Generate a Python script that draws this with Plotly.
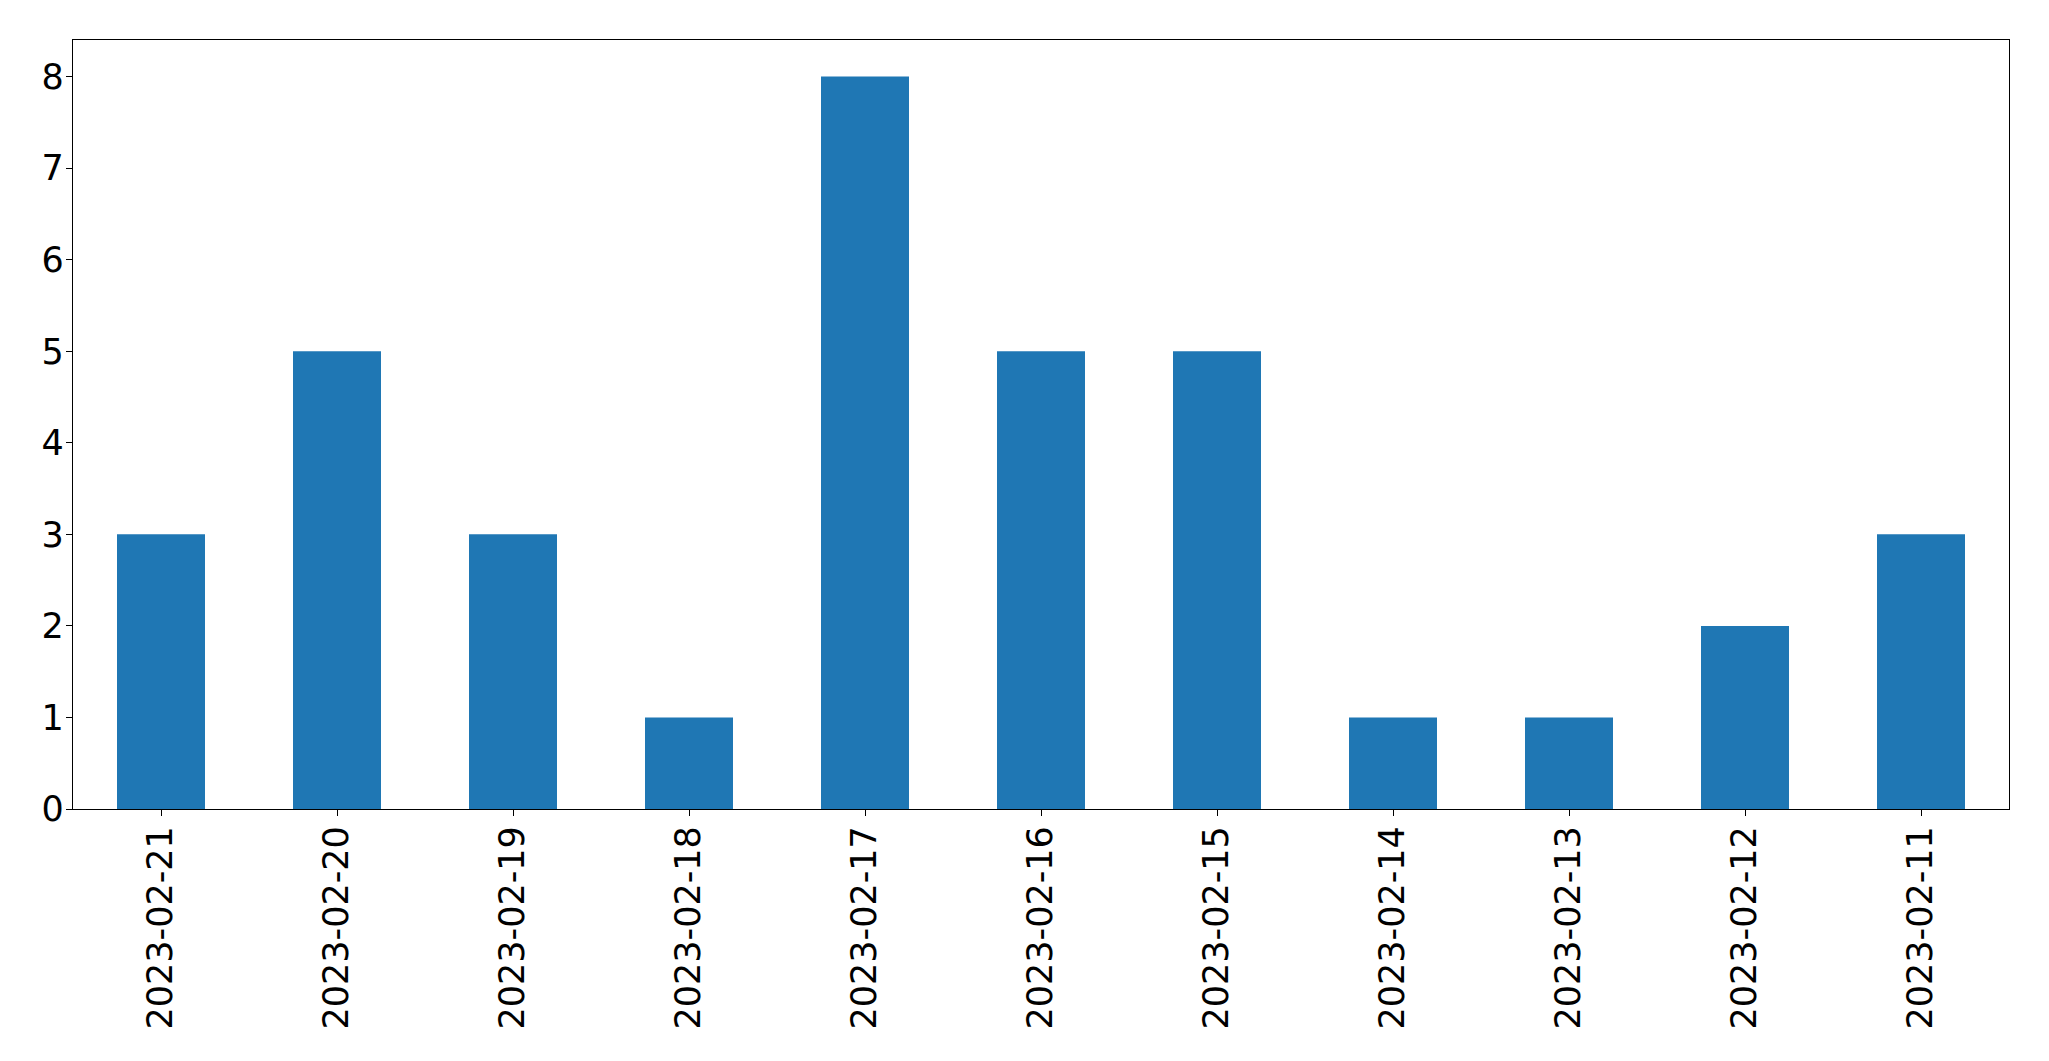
import plotly.graph_objects as go

dates = ["2023-02-21", "2023-02-20", "2023-02-19", "2023-02-18", "2023-02-17",
         "2023-02-16", "2023-02-15", "2023-02-14", "2023-02-13", "2023-02-12",
         "2023-02-11"]
counts = [3, 5, 3, 1, 8, 5, 5, 1, 1, 2, 3]

fig = go.Figure(go.Bar(x=dates, y=counts, marker=dict(color="#1f77b4", line=dict(width=0)),
                       width=0.5))

fig.update_layout(
    width=2049, height=1061,
    margin=dict(l=72.5, r=40, t=39.5, b=252),
    paper_bgcolor="white", plot_bgcolor="white",
    font=dict(family="DejaVu Sans", size=35, color="black"),
    showlegend=False,
)
fig.update_xaxes(
    type="category", range=[-0.5, 10.5], tickangle=-90,
    showline=True, linecolor="black", linewidth=1.3, mirror=True,
    ticks="outside", ticklen=6, tickwidth=1.3, tickcolor="black",
    showgrid=False, zeroline=False, ticklabelstandoff=-4,
)
fig.update_yaxes(
    range=[0, 8.4], tickvals=list(range(0, 9)),
    showline=True, linecolor="black", linewidth=1.3, mirror=True,
    ticks="outside", ticklen=6, tickwidth=1.3, tickcolor="black",
    showgrid=False, zeroline=False, ticklabelstandoff=-5,
)

fig.write_html(
    "out.html",
    config={"displayModeBar": False},
    post_script="document.body.style.margin='0';document.body.style.overflow='hidden';",
)
